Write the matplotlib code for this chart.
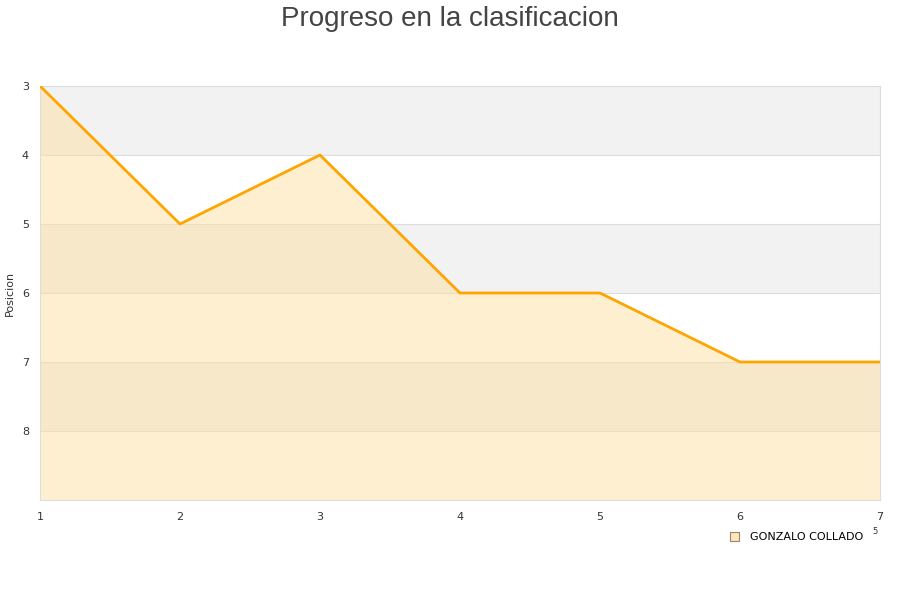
import matplotlib
matplotlib.use("Agg")
import matplotlib.pyplot as plt
from matplotlib.patches import Rectangle

jornadas = [1, 2, 3, 4, 5, 6, 7]
posicion = [3, 5, 4, 6, 6, 7, 7]
jugador = "GONZALO COLLADO"
y_min, y_max = 3, 9

fig = plt.figure(figsize=(9, 6), dpi=100)
ax = fig.add_axes([40/900, 1 - 500/600, 840/900, 414/600])

# bandas alternas
for i, y0 in enumerate(range(y_min, y_max)):
    if i % 2 == 0:
        ax.axhspan(y0, y0 + 1, color="#f2f2f2", zorder=0, lw=0)
for y0 in range(y_min + 1, y_max):
    ax.axhline(y0, color="#dddddd", lw=0.8, zorder=1)

ax.fill_between(jornadas, posicion, y_max, color="#ffdd99", alpha=0.45, lw=0, zorder=2)
ax.plot(jornadas, posicion, color="#ffa500", lw=2.0, zorder=3)

ax.set_xlim(1, 7)
ax.set_ylim(y_max, y_min)
ax.set_xticks(jornadas)
ax.set_yticks(range(y_min, y_max))
ax.tick_params(length=0, labelsize=8, colors="#333333", pad=8)
ax.tick_params(axis="x", pad=9)
for s in ax.spines.values():
    s.set_color("#dddddd")
fig.text(10/900, 1 - 293/600, "Posicion", fontsize=8, color="#333333",
         rotation=90, ha="center", va="center")

fig.suptitle("Progreso en la clasificacion", fontsize=20, color="#444444",
             family="Liberation Sans", y=0.99)

handle = Rectangle((0, 0), 1, 1, facecolor="#fde5c0", edgecolor="#a08060", lw=0.8)
fig.legend([handle], [jugador], loc="upper left", bbox_to_anchor=(720/900, 1 - 522/600),
           frameon=False, fontsize=8, handlelength=0.8, handleheight=0.8, handletextpad=1.0)
fig.text(875/900, 1 - 532/600, "5", fontsize=6, color="#333333", ha="center", va="center")

fig.savefig("out.png", dpi=100, facecolor="white")
